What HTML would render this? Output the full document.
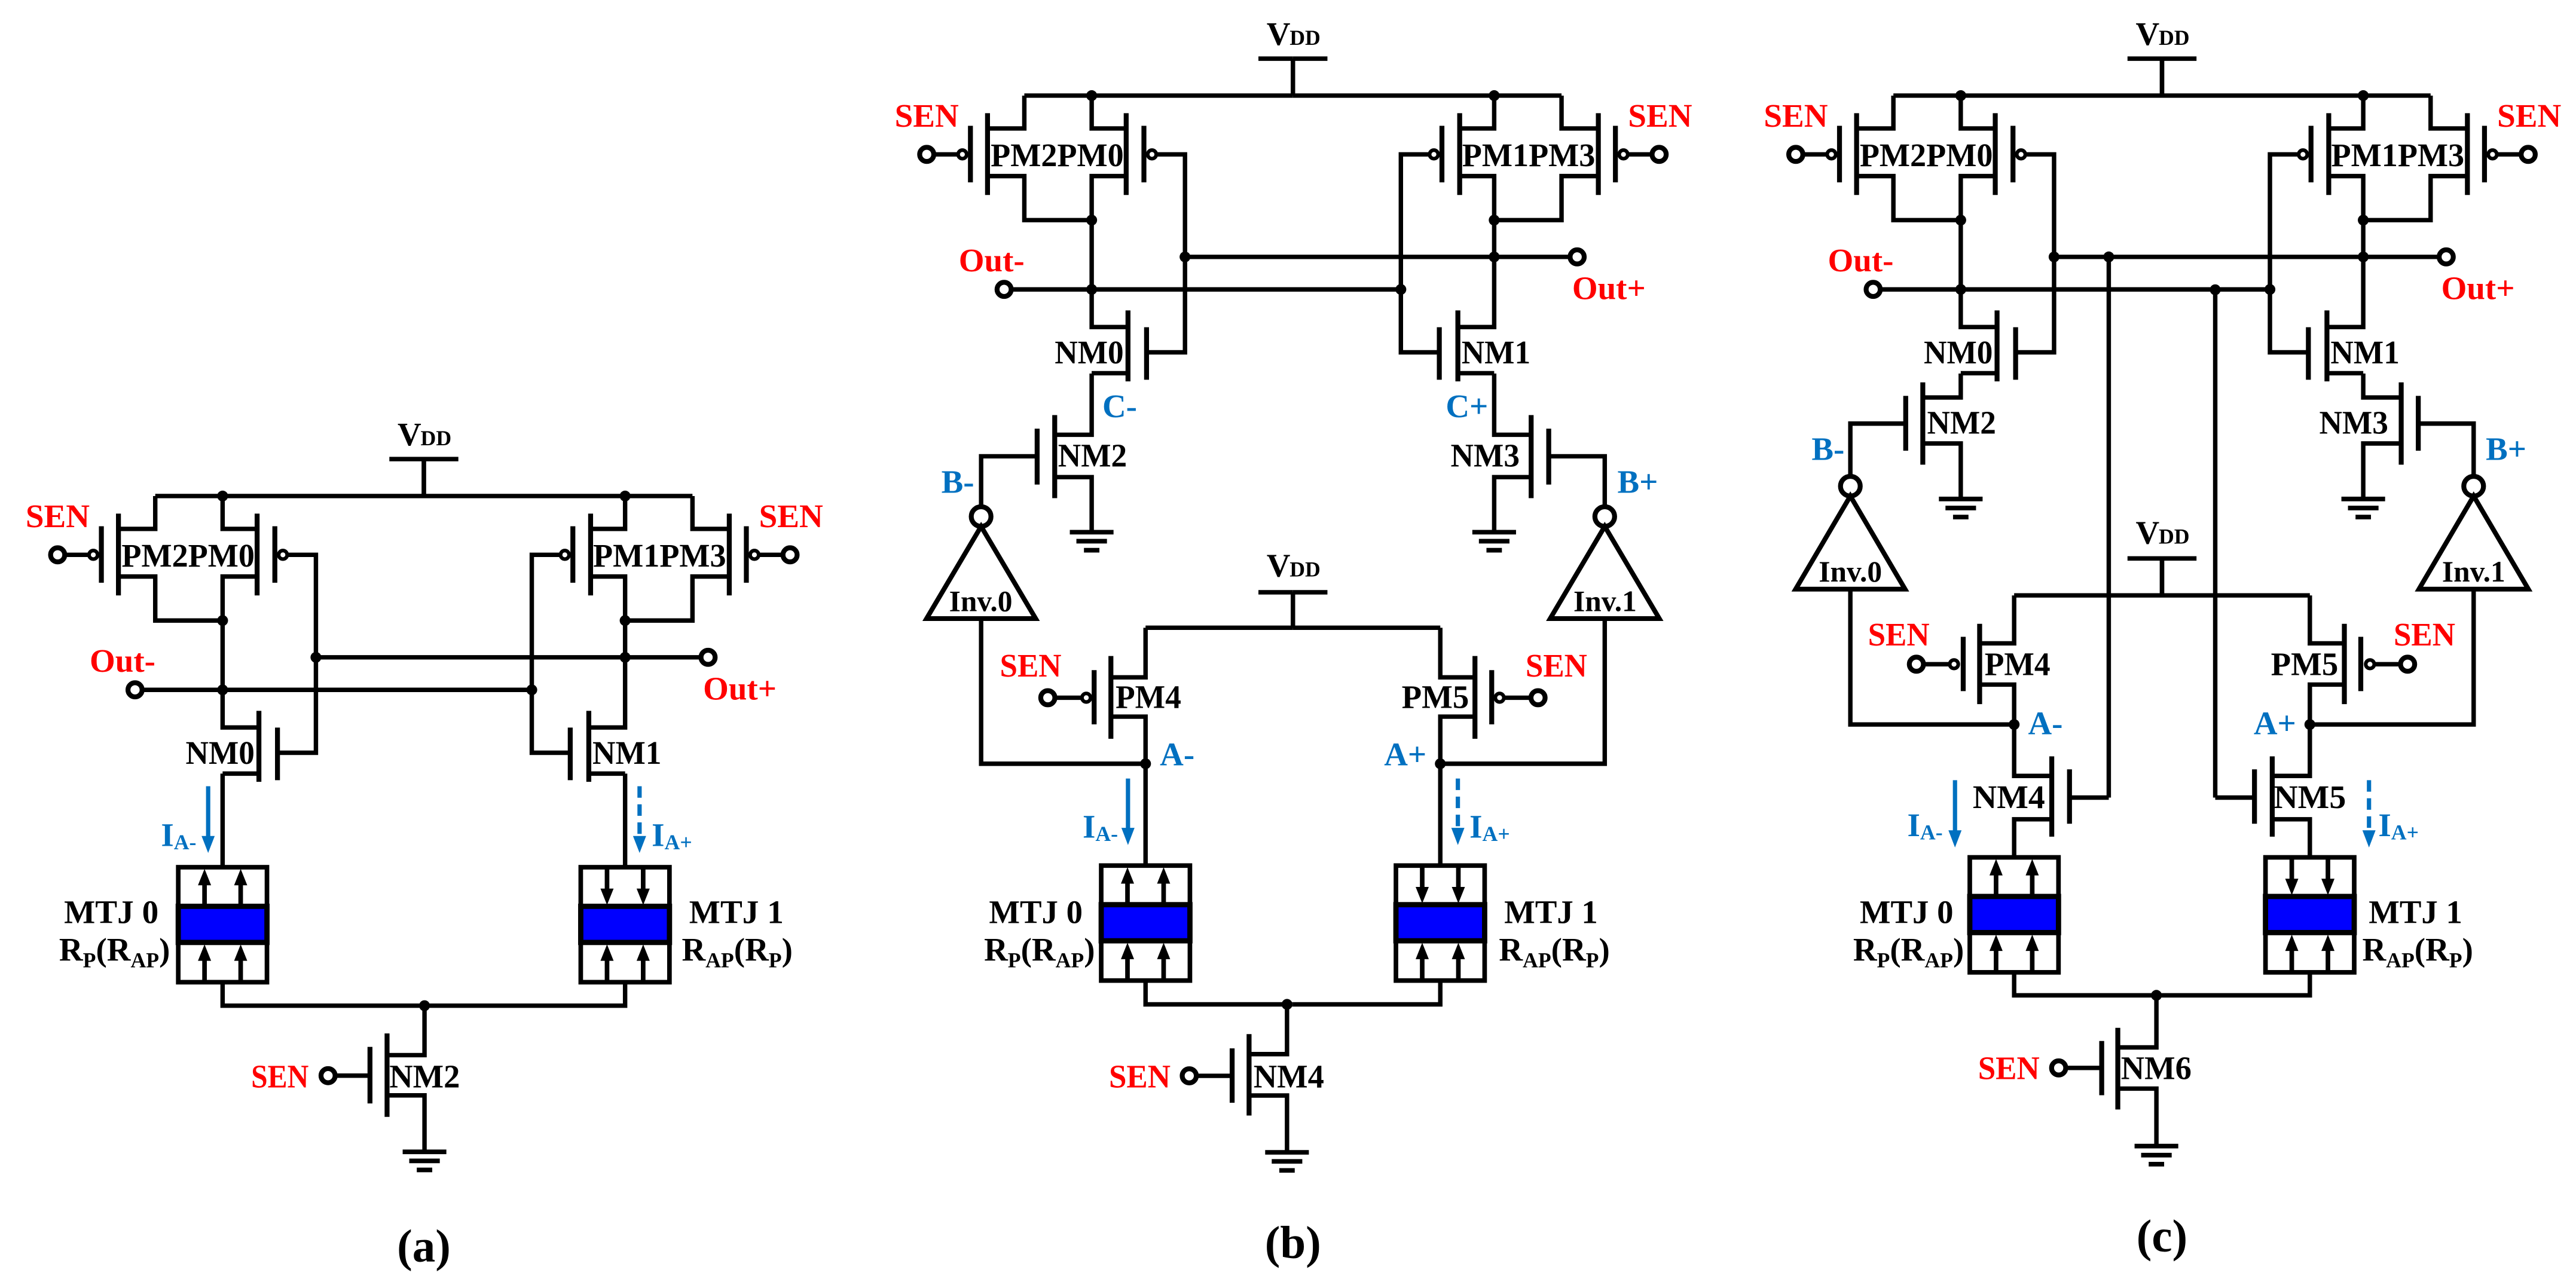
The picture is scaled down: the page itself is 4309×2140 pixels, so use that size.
<!DOCTYPE html>
<html><head><meta charset="utf-8"><style>
html,body{margin:0;padding:0;background:#fff}
svg{display:block}
text{font-family:"Liberation Serif","Times New Roman",serif;font-weight:bold}
</style></head><body>
<svg width="4309" height="2140" viewBox="0 0 1568 778.7" xmlns="http://www.w3.org/2000/svg">
<defs>
<g id="latchL">
<path d="M-163.5 0H0 M-21 -22.5H0 M0 -22.5V0 M-122.5 0V20H-101.5 M-101.5 49H-122.5V140.9H-100.4 M-100.4 169H-122.5 M-83 35.8H-65.7V156.3H-89.1 M-163.5 0V20H-185.9 M-185.9 49H-163.5V75.8H-122.5 M-203.8 35.8H-218.6" fill="none" stroke="#000" stroke-width="2.7"/>
<path d="M-101.5 10.7V60.5 M-90.7 18.4V52.8 M-185.9 10.7V60.5 M-196.3 18.4V52.8 M-100.4 130.8V174 M-89.1 141V173" stroke="#000" stroke-width="3"/>
<circle cx="-85.8" cy="35.8" r="2.6" fill="#fff" stroke="#000" stroke-width="2.2"/>
<circle cx="-201.2" cy="35.8" r="2.6" fill="#fff" stroke="#000" stroke-width="2.2"/>
<circle cx="-222.9" cy="35.8" r="4.3" fill="#fff" stroke="#000" stroke-width="3"/>
<circle cx="-122.5" cy="0" r="3.3"/><circle cx="-122.5" cy="75.8" r="3.3"/>
</g>
<g id="latchN">
<path d="M-65.7 98.2H168.7 M-171.5 118H65.7" stroke="#000" stroke-width="2.7"/>
<circle cx="173" cy="98.2" r="4.3" fill="#fff" stroke="#000" stroke-width="3"/>
<circle cx="-175.8" cy="118" r="4.3" fill="#fff" stroke="#000" stroke-width="3"/>
<circle cx="-65.7" cy="98.2" r="3.3"/><circle cx="122.5" cy="98.2" r="3.3"/>
<circle cx="-122.5" cy="118" r="3.3"/><circle cx="65.7" cy="118" r="3.3"/>
</g>
<g id="mtjUp">
<rect x="-27" y="0" width="54" height="70" fill="#fff" stroke="#000" stroke-width="2.8"/>
<rect x="-27" y="23.8" width="54" height="22" fill="#0000ff" stroke="#000" stroke-width="3.2"/>
<path d="M-11 23.8V7 M11 23.8V7 M-11 70V53 M11 70V53" stroke="#000" stroke-width="2.8"/>
<path d="M-15 11L-11 1 -7 11Z M7 11L11 1 15 11Z M-15 57L-11 47 -7 57Z M7 57L11 47 15 57Z"/>
</g>
<g id="mtjDn">
<rect x="-27" y="0" width="54" height="70" fill="#fff" stroke="#000" stroke-width="2.8"/>
<rect x="-27" y="23.8" width="54" height="22" fill="#0000ff" stroke="#000" stroke-width="3.2"/>
<path d="M-11 0V17 M11 0V17 M-11 70V53 M11 70V53" stroke="#000" stroke-width="2.8"/>
<path d="M-15 13L-11 23 -7 13Z M7 13L11 23 15 13Z M-15 57L-11 47 -7 57Z M7 57L11 47 15 57Z"/>
</g>
<g id="gnd"><path d="M-13.3 0H13.3 M-9.3 5.5H9.3 M-4.7 11H4.7" stroke="#000" stroke-width="2.8"/></g>
</defs>

<!-- ================= (a) ================= -->
<g transform="translate(258,302)">
<use href="#latchL"/><use href="#latchL" transform="scale(-1,1)"/><use href="#latchN"/>
</g>
<g transform="translate(258,0)">
<path d="M-122.5 471V528 M-122.5 597.7V612.3H122.5V597.7 M122.5 471V528" fill="none" stroke="#000" stroke-width="2.7"/>
<use href="#mtjUp" transform="translate(-122.5,528)"/>
<use href="#mtjDn" transform="translate(122.5,528)"/>
<circle cx="0.4" cy="612.3" r="3.3"/>
<path d="M0.4 612.3V642.4H-22.4 M-32.8 654.9H-54 M-22.4 666.9H0.4V701.3" fill="none" stroke="#000" stroke-width="2.7"/>
<path d="M-22.4 629.2V680 M-32.8 637.4V671.8" stroke="#000" stroke-width="3"/>
<circle cx="-58.3" cy="654.9" r="4.3" fill="#fff" stroke="#000" stroke-width="3"/>
<use href="#gnd" transform="translate(0.4,701.3)"/>
<path d="M-131.3 478.7V511" stroke="#0070c0" stroke-width="2.6"/>
<path d="M-135.3 509L-131.3 519.3 -127.3 509Z" fill="#0070c0"/>
<path d="M131.3 478.7V511" stroke="#0070c0" stroke-width="2.6" stroke-dasharray="7,4"/>
<path d="M127.3 509L131.3 519.3 135.3 509Z" fill="#0070c0"/>
</g>

<!-- ================= (b) ================= -->
<g transform="translate(787,58.2)">
<use href="#latchL"/><use href="#latchL" transform="scale(-1,1)"/><use href="#latchN"/>
</g>
<g transform="translate(787,0)">
<g id="bHalf">
<path d="M-122.5 227.4V264.7H-145 M-155.7 277.8H-189.8V308.5 M-145 290.5H-122.5V324 M-189.8 376.6V465H-89.7 M-89.7 382.2H0 M-21 360.6H0 M0 360.6V382.2 M-89.7 382.2V412.4H-110.8 M-128.4 424.8H-144.9 M-110.8 436.3H-89.7V527 M-89.7 597V611.5H0" fill="none" stroke="#000" stroke-width="2.7"/>
<path d="M-145 252.7V303.3 M-155.7 261V295 M-110.8 399.4V449.8 M-121 408V441" stroke="#000" stroke-width="3"/>
<circle cx="-189.8" cy="314.5" r="6" fill="#fff" stroke="#000" stroke-width="3"/>
<path d="M-189.8 320.5L-223 376.6H-156.6Z" fill="#fff" stroke="#000" stroke-width="2.9"/>
<circle cx="-125.8" cy="424.8" r="2.6" fill="#fff" stroke="#000" stroke-width="2.2"/>
<circle cx="-149.2" cy="424.8" r="4.3" fill="#fff" stroke="#000" stroke-width="3"/>
<circle cx="-89.7" cy="465" r="3.3"/>
<use href="#gnd" transform="translate(-122.5,324)"/>
</g>
<use href="#bHalf" transform="scale(-1,1)"/>
<use href="#mtjUp" transform="translate(-89.7,527)"/>
<use href="#mtjDn" transform="translate(89.7,527)"/>
<circle cx="-3.6" cy="611.5" r="3.3"/>
<path d="M-3.6 611.5V641.8H-26.7 M-37 655H-58.8 M-26.7 667H-3.6V701.6" fill="none" stroke="#000" stroke-width="2.7"/>
<path d="M-26.7 629.6V679.2 M-37 638.3V671.4" stroke="#000" stroke-width="3"/>
<circle cx="-63.1" cy="655" r="4.3" fill="#fff" stroke="#000" stroke-width="3"/>
<use href="#gnd" transform="translate(-3.6,701.6)"/>
<path d="M-100.4 474V506" stroke="#0070c0" stroke-width="2.6"/>
<path d="M-104.4 504L-100.4 514.5 -96.4 504Z" fill="#0070c0"/>
<path d="M100.4 474V506" stroke="#0070c0" stroke-width="2.6" stroke-dasharray="7,4"/>
<path d="M96.4 504L100.4 514.5 104.4 504Z" fill="#0070c0"/>
</g>

<!-- ================= (c) ================= -->
<g transform="translate(1316,58.2)">
<use href="#latchL"/><use href="#latchL" transform="scale(-1,1)"/><use href="#latchN"/>
</g>
<g transform="translate(1316,0)">
<g id="cHalf">
<path d="M-122.5 227.4V242H-145.6 M-156 257.9H-189.7V290 M-145.6 270H-122.5V303.8 M-189.7 358.7V441.1H-90 M-90 362.5H0 M-21 340H0 M0 340V362.5 M-90 362.5V391.7H-111 M-129.2 404.4H-145.2 M-111 416.8H-90V472.4H-67.1 M-56.3 485.6H-32.4 M-67.1 498.8H-90V522 M-90 592V606H0" fill="none" stroke="#000" stroke-width="2.7"/>
<path d="M-145.6 232.8V282.9 M-156 241V274.4 M-111 379.8V428.7 M-121 387.7V420.8 M-67.1 460.5V509.4 M-56.3 468.4V501.5" stroke="#000" stroke-width="3"/>
<circle cx="-189.7" cy="296" r="6" fill="#fff" stroke="#000" stroke-width="3"/>
<path d="M-189.7 302L-223 358.7H-156.4Z" fill="#fff" stroke="#000" stroke-width="2.9"/>
<circle cx="-126.6" cy="404.4" r="2.6" fill="#fff" stroke="#000" stroke-width="2.2"/>
<circle cx="-149.5" cy="404.4" r="4.3" fill="#fff" stroke="#000" stroke-width="3"/>
<circle cx="-90" cy="441.1" r="3.3"/>
<use href="#gnd" transform="translate(-122.5,303.8)"/>
</g>
<use href="#cHalf" transform="scale(-1,1)"/>
<path d="M-32.4 156.4V485.6 M32.4 176.4V485.6" stroke="#000" stroke-width="2.7"/>
<circle cx="-32.4" cy="156.4" r="3.3"/><circle cx="32.4" cy="176.4" r="3.3"/>
<use href="#mtjUp" transform="translate(-90,522)"/>
<use href="#mtjDn" transform="translate(90,522)"/>
<circle cx="-3.4" cy="606" r="3.3"/>
<path d="M-3.4 606V637.7H-26.9 M-36.7 650.2H-58.6 M-26.9 662.8H-3.4V697.8" fill="none" stroke="#000" stroke-width="2.7"/>
<path d="M-26.9 625.8V675.5 M-36.7 633.8V666.8" stroke="#000" stroke-width="3"/>
<circle cx="-62.9" cy="650.2" r="4.3" fill="#fff" stroke="#000" stroke-width="3"/>
<use href="#gnd" transform="translate(-3.4,697.8)"/>
<path d="M-126 475V507" stroke="#0070c0" stroke-width="2.6"/>
<path d="M-130 505.5L-126 516 -122 505.5Z" fill="#0070c0"/>
<path d="M126 475V507" stroke="#0070c0" stroke-width="2.6" stroke-dasharray="7,4"/>
<path d="M122 505.5L126 516 130 505.5Z" fill="#0070c0"/>
</g>

<!-- ================= TEXT ================= -->
<g font-size="20">
<g transform="translate(258,302)">
<text x="-16" y="-31">V</text><text x="-2" y="-31" font-size="13">DD</text>
<text x="-242.4" y="19" fill="#ff0000" textLength="39" lengthAdjust="spacingAndGlyphs">SEN</text>
<text x="204" y="19" fill="#ff0000" textLength="39" lengthAdjust="spacingAndGlyphs">SEN</text>
<text x="-184" y="43" textLength="81" lengthAdjust="spacingAndGlyphs">PM2PM0</text>
<text x="103" y="43" textLength="81" lengthAdjust="spacingAndGlyphs">PM1PM3</text>
<text x="-203.4" y="107" fill="#ff0000" textLength="40" lengthAdjust="spacingAndGlyphs">Out-</text>
<text x="170" y="124" fill="#ff0000" textLength="44.7" lengthAdjust="spacingAndGlyphs">Out+</text>
<text x="-145" y="163" textLength="42" lengthAdjust="spacingAndGlyphs">NM0</text>
<text x="102.6" y="163" textLength="42" lengthAdjust="spacingAndGlyphs">NM1</text>
</g>
<g transform="translate(787,58.2)">
<text x="-16" y="-31">V</text><text x="-2" y="-31" font-size="13">DD</text>
<text x="-242.4" y="19" fill="#ff0000" textLength="39" lengthAdjust="spacingAndGlyphs">SEN</text>
<text x="204" y="19" fill="#ff0000" textLength="39" lengthAdjust="spacingAndGlyphs">SEN</text>
<text x="-184" y="43" textLength="81" lengthAdjust="spacingAndGlyphs">PM2PM0</text>
<text x="103" y="43" textLength="81" lengthAdjust="spacingAndGlyphs">PM1PM3</text>
<text x="-203.4" y="107" fill="#ff0000" textLength="40" lengthAdjust="spacingAndGlyphs">Out-</text>
<text x="170" y="124" fill="#ff0000" textLength="44.7" lengthAdjust="spacingAndGlyphs">Out+</text>
<text x="-145" y="163" textLength="42" lengthAdjust="spacingAndGlyphs">NM0</text>
<text x="102.6" y="163" textLength="42" lengthAdjust="spacingAndGlyphs">NM1</text>
</g>
<g transform="translate(1316,58.2)">
<text x="-16" y="-31">V</text><text x="-2" y="-31" font-size="13">DD</text>
<text x="-242.4" y="19" fill="#ff0000" textLength="39" lengthAdjust="spacingAndGlyphs">SEN</text>
<text x="204" y="19" fill="#ff0000" textLength="39" lengthAdjust="spacingAndGlyphs">SEN</text>
<text x="-184" y="43" textLength="81" lengthAdjust="spacingAndGlyphs">PM2PM0</text>
<text x="103" y="43" textLength="81" lengthAdjust="spacingAndGlyphs">PM1PM3</text>
<text x="-203.4" y="107" fill="#ff0000" textLength="40" lengthAdjust="spacingAndGlyphs">Out-</text>
<text x="170" y="124" fill="#ff0000" textLength="44.7" lengthAdjust="spacingAndGlyphs">Out+</text>
<text x="-145" y="163" textLength="42" lengthAdjust="spacingAndGlyphs">NM0</text>
<text x="102.6" y="163" textLength="42" lengthAdjust="spacingAndGlyphs">NM1</text>
</g>

<!-- (a) -->
<text x="237" y="662" textLength="43" lengthAdjust="spacingAndGlyphs">NM2</text>
<text x="152.9" y="662" fill="#ff0000" textLength="35" lengthAdjust="spacingAndGlyphs">SEN</text>
<text x="39" y="562" textLength="57.5" lengthAdjust="spacingAndGlyphs">MTJ 0</text>
<text x="36" y="585">R<tspan font-size="13" dy="4">P</tspan><tspan dy="-4">(R</tspan><tspan font-size="13" dy="4">AP</tspan><tspan dy="-4">)</tspan></text>
<text x="419.5" y="562" textLength="57.5" lengthAdjust="spacingAndGlyphs">MTJ 1</text>
<text x="415" y="585">R<tspan font-size="13" dy="4">AP</tspan><tspan dy="-4">(R</tspan><tspan font-size="13" dy="4">P</tspan><tspan dy="-4">)</tspan></text>
<text x="98" y="515" fill="#0070c0">I<tspan font-size="13" dy="2">A-</tspan></text>
<text x="396.7" y="515" fill="#0070c0">I<tspan font-size="13" dy="2">A+</tspan></text>
<text x="258" y="768" font-size="28" text-anchor="middle">(a)</text>

<!-- (b) -->
<text x="671" y="254" fill="#0070c0">C-</text>
<text x="880" y="254" fill="#0070c0">C+</text>
<text x="644" y="284" textLength="42" lengthAdjust="spacingAndGlyphs">NM2</text>
<text x="883" y="284" textLength="42" lengthAdjust="spacingAndGlyphs">NM3</text>
<text x="573" y="300" fill="#0070c0">B-</text>
<text x="984.5" y="300" fill="#0070c0">B+</text>
<text x="597" y="372" font-size="18" text-anchor="middle">Inv.0</text>
<text x="977" y="372" font-size="18" text-anchor="middle">Inv.1</text>
<text x="771" y="351">V</text><text x="785" y="351" font-size="13">DD</text>
<text x="608.6" y="412" fill="#ff0000" textLength="37.5" lengthAdjust="spacingAndGlyphs">SEN</text>
<text x="928.6" y="412" fill="#ff0000" textLength="37.5" lengthAdjust="spacingAndGlyphs">SEN</text>
<text x="679" y="431" textLength="40" lengthAdjust="spacingAndGlyphs">PM4</text>
<text x="853.2" y="431" textLength="41" lengthAdjust="spacingAndGlyphs">PM5</text>
<text x="706" y="466" fill="#0070c0">A-</text>
<text x="842.5" y="466" fill="#0070c0">A+</text>
<text x="659" y="510" fill="#0070c0">I<tspan font-size="13" dy="2">A-</tspan></text>
<text x="894.5" y="510" fill="#0070c0">I<tspan font-size="13" dy="2">A+</tspan></text>
<text x="602" y="562" textLength="57" lengthAdjust="spacingAndGlyphs">MTJ 0</text>
<text x="599" y="585">R<tspan font-size="13" dy="4">P</tspan><tspan dy="-4">(R</tspan><tspan font-size="13" dy="4">AP</tspan><tspan dy="-4">)</tspan></text>
<text x="915.6" y="562" textLength="57" lengthAdjust="spacingAndGlyphs">MTJ 1</text>
<text x="912.4" y="585">R<tspan font-size="13" dy="4">AP</tspan><tspan dy="-4">(R</tspan><tspan font-size="13" dy="4">P</tspan><tspan dy="-4">)</tspan></text>
<text x="675" y="662" fill="#ff0000" textLength="37.5" lengthAdjust="spacingAndGlyphs">SEN</text>
<text x="763" y="662" textLength="43" lengthAdjust="spacingAndGlyphs">NM4</text>
<text x="787" y="766" font-size="28" text-anchor="middle">(b)</text>

<!-- (c) -->
<text x="1173" y="264" textLength="42" lengthAdjust="spacingAndGlyphs">NM2</text>
<text x="1411.7" y="264" textLength="42" lengthAdjust="spacingAndGlyphs">NM3</text>
<text x="1102.7" y="280" fill="#0070c0">B-</text>
<text x="1513.1" y="280" fill="#0070c0">B+</text>
<text x="1126.3" y="354" font-size="18" text-anchor="middle">Inv.0</text>
<text x="1505.7" y="354" font-size="18" text-anchor="middle">Inv.1</text>
<text x="1300" y="331">V</text><text x="1314" y="331" font-size="13">DD</text>
<text x="1137" y="393" fill="#ff0000" textLength="37.5" lengthAdjust="spacingAndGlyphs">SEN</text>
<text x="1457" y="393" fill="#ff0000" textLength="37.5" lengthAdjust="spacingAndGlyphs">SEN</text>
<text x="1208" y="411" textLength="40" lengthAdjust="spacingAndGlyphs">PM4</text>
<text x="1382.3" y="411" textLength="41" lengthAdjust="spacingAndGlyphs">PM5</text>
<text x="1234.5" y="447" fill="#0070c0">A-</text>
<text x="1371.8" y="447" fill="#0070c0">A+</text>
<text x="1200.8" y="492" textLength="44" lengthAdjust="spacingAndGlyphs">NM4</text>
<text x="1384" y="492" textLength="44" lengthAdjust="spacingAndGlyphs">NM5</text>
<text x="1161" y="509" fill="#0070c0">I<tspan font-size="13" dy="2">A-</tspan></text>
<text x="1447.7" y="509" fill="#0070c0">I<tspan font-size="13" dy="2">A+</tspan></text>
<text x="1132" y="562" textLength="57" lengthAdjust="spacingAndGlyphs">MTJ 0</text>
<text x="1128" y="585">R<tspan font-size="13" dy="4">P</tspan><tspan dy="-4">(R</tspan><tspan font-size="13" dy="4">AP</tspan><tspan dy="-4">)</tspan></text>
<text x="1441.8" y="562" textLength="57" lengthAdjust="spacingAndGlyphs">MTJ 1</text>
<text x="1437.9" y="585">R<tspan font-size="13" dy="4">AP</tspan><tspan dy="-4">(R</tspan><tspan font-size="13" dy="4">P</tspan><tspan dy="-4">)</tspan></text>
<text x="1204" y="657" fill="#ff0000" textLength="37.5" lengthAdjust="spacingAndGlyphs">SEN</text>
<text x="1291" y="657" textLength="43" lengthAdjust="spacingAndGlyphs">NM6</text>
<text x="1316" y="762" font-size="28" text-anchor="middle">(c)</text>
</g>
</svg>
</body></html>
